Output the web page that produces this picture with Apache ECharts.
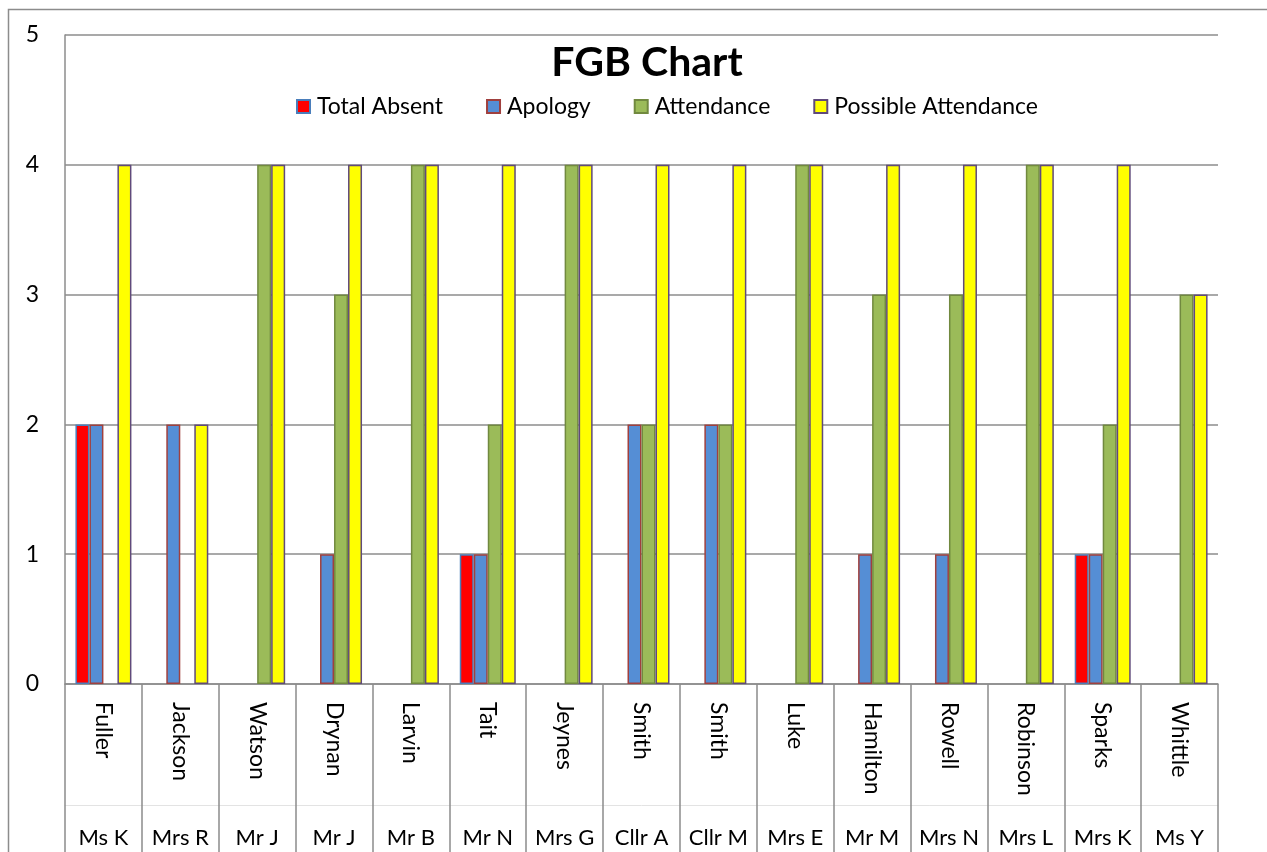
<!DOCTYPE html>
<html>
<head>
<meta charset="utf-8">
<script src="https://cdn.jsdelivr.net/npm/echarts@6/dist/echarts.min.js"></script>
<style>
html,body{margin:0;padding:0;background:#fff;}
#chart{width:1267px;height:852px;}
</style>
</head>
<body>
<div id="chart"></div>
<script>
var surnames = ['Fuller','Jackson','Watson','Drynan','Larvin','Tait','Jeynes','Smith','Smith','Luke','Hamilton','Rowell','Robinson','Sparks','Whittle'];
var firstNames = ['Ms K','Mrs R','Mr J','Mr J','Mr B','Mr N','Mrs G','Cllr A','Cllr M','Mrs E','Mr M','Mrs N','Mrs L','Mrs K','Ms Y'];
var totalAbsent = [2,0,0,0,0,1,0,0,0,0,0,0,0,1,0];
var apology = [2,2,0,1,0,1,0,2,2,0,1,1,0,1,0];
var attendance = [0,0,4,3,4,2,4,2,2,4,3,3,4,2,3];
var possibleAttendance = [4,2,4,4,4,4,4,4,4,4,4,4,4,4,3];
var yTicks = [0,1,2,3,4,5];

var FONT = 'Lato, "Open Sans", sans-serif';
function clean(arr){ return arr.map(function(v){ return v === 0 ? '-' : v; }); }

var chart = echarts.init(document.getElementById('chart'), null, {renderer:'canvas'});
var gridColor = '#8c8c8c';
function mk(name, data, fill, border){
  return {
    name: name, type: 'bar', data: clean(data), barWidth: 14, barGap: '0%',
    itemStyle: {color: fill, borderColor: border, borderWidth: 1.5},
    emphasis: {disabled: true}
  };
}
chart.setOption({
  animation: false,
  backgroundColor: '#fff',
  title: {
    text: 'FGB Chart', left: 642, textAlign: 'center', top: 37,
    textStyle: {fontFamily: FONT, fontSize: 41, fontWeight: 'bold', color: '#000'}
  },
  legend: {
    left: 296, top: 95, padding: 0, itemWidth: 13, itemHeight: 13, itemGap: 43,
    icon: 'rect',
    textStyle: {fontFamily: FONT, fontSize: 23, color: '#000', padding: [0,0,0,2]},
    data: ['Total Absent','Apology','Attendance','Possible Attendance']
  },
  grid: {left: 65, right: 49, top: 35, bottom: 168, containLabel: false},
  xAxis: [
    {
      type: 'category', data: surnames, position: 'bottom',
      axisLine: {show: true, lineStyle: {color: gridColor, width: 1.5}},
      axisTick: {show: true, length: 170, lineStyle: {color: gridColor, width: 1.5}},
      axisLabel: {rotate: -90, margin: 18, fontFamily: FONT, fontSize: 23, color: '#000', interval: 0}
    },
    {
      type: 'category', data: firstNames, position: 'bottom', offset: 121,
      axisLine: {show: true, lineStyle: {color: '#e3e3e3', width: 1}},
      axisTick: {show: false},
      axisLabel: {margin: 22, fontFamily: FONT, fontSize: 22, color: '#000', interval: 0}
    }
  ],
  yAxis: {
    type: 'value', min: yTicks[0], max: yTicks[yTicks.length-1], interval: 1,
    axisLine: {show: true, lineStyle: {color: gridColor, width: 1.5}},
    axisTick: {show: false},
    axisLabel: {margin: 26, fontFamily: FONT, fontSize: 23, color: '#000'},
    splitLine: {show: true, lineStyle: {color: gridColor, width: 1.5}}
  },
  series: [
    mk('Total Absent', totalAbsent, '#ff0000', '#4a7ebb'),
    mk('Apology', apology, '#558ed5', '#a0403e'),
    mk('Attendance', attendance, '#9bbb59', '#71893f'),
    mk('Possible Attendance', possibleAttendance, '#ffff00', '#604a7b')
  ],
  graphic: [{
    type: 'rect', shape: {x: 8.5, y: 9.5, width: 1400, height: 1000},
    style: {fill: 'none', stroke: gridColor, lineWidth: 1.5}, silent: true, z: 100
  }]
});
</script>
</body>
</html>
